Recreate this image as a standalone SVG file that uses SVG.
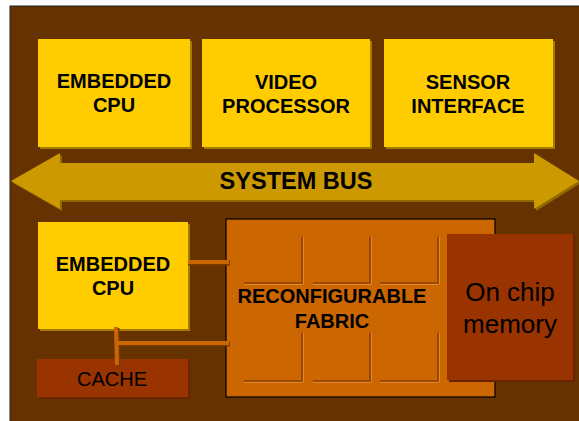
<svg xmlns="http://www.w3.org/2000/svg" width="579" height="421" viewBox="0 0 579 421">
<style>
.bold{font-family:"Liberation Sans",Arial,sans-serif;font-weight:bold;fill:#000;text-anchor:middle}
.reg{font-family:"Liberation Sans",Arial,sans-serif;fill:#000;text-anchor:middle}
.ybox{fill:#FFCC00}
.yshadow{fill:#A67C00}
.grid{fill:none;stroke:#8F4200;stroke-width:1.6}
.gridhl{fill:none;stroke:#E08A2E;stroke-width:1}
.conn{stroke:#CC6600;stroke-width:4;fill:none}
.connsh{stroke:#7A3A00;stroke-width:5;fill:none}
</style>
<rect x="0" y="0" width="579" height="421" fill="#FFFFFF"/>
<rect x="10" y="6" width="575" height="420" fill="#663300" stroke="#222" stroke-width="1"/>

<g id="cpu-top">
<rect class="yshadow" x="40" y="41" width="152" height="108"/>
<rect class="ybox" x="38" y="39" width="152" height="108"/>
<text class="bold" x="114" y="88" font-size="20">EMBEDDED</text>
<text class="bold" x="114" y="112" font-size="20">CPU</text>
</g>
<g id="video">
<rect class="yshadow" x="204" y="41" width="168" height="108"/>
<rect class="ybox" x="202" y="39" width="168" height="108"/>
<text class="bold" x="286" y="89" font-size="20">VIDEO</text>
<text class="bold" x="286" y="113" font-size="20">PROCESSOR</text>
</g>
<g id="sensor">
<rect class="yshadow" x="386" y="41" width="169" height="108"/>
<rect class="ybox" x="384" y="39" width="169" height="108"/>
<text class="bold" x="468" y="89" font-size="20">SENSOR</text>
<text class="bold" x="468" y="113" font-size="20">INTERFACE</text>
</g>

<g id="system-bus">
<polygon points="13,183 62,155 62,165 536,165 536,155 581,183 536,211 536,202 62,202 62,211" fill="#8F6A00"/>
<polygon points="11,181 60,153 60,163 534,163 534,153 579,181 534,209 534,200 60,200 60,209" fill="#CC9900"/>
<text class="bold" x="296" y="189" font-size="23.5">SYSTEM BUS</text>
</g>

<g id="cpu-bottom">
<rect class="yshadow" x="40" y="224" width="150" height="107"/>
<rect class="ybox" x="38" y="222" width="150" height="107"/>
<text class="bold" x="113" y="271" font-size="20">EMBEDDED</text>
<text class="bold" x="113" y="295" font-size="20">CPU</text>
</g>

<g id="cache">
<rect x="39" y="361" width="151" height="38" fill="#6B2400"/>
<rect x="37" y="359" width="151" height="38" fill="#993300"/>
<text class="reg" x="112" y="386" font-size="20">CACHE</text>
</g>

<g id="fabric">
<rect x="226" y="219" width="269" height="178" fill="#CC6600" stroke="#000" stroke-width="1.2"/>
<path class="gridhl" d="M244,284.5 H303 M313,284.5 H371 M380,284.5 H439 M303.5,237 V284 M371.5,237 V284 M439.5,237 V284 M244,382.5 H303 M313,382.5 H371 M380,382.5 H439 M303.5,333 V382 M371.5,333 V382 M439.5,333 V382"/>
<path class="grid" d="M244,283 H302 V237 M313,283 H370 V237 M380,283 H438 V237 M244,381 H302 V333 M313,381 H370 V333 M380,381 H438 V333"/>
<text class="bold" x="332" y="303" font-size="20">RECONFIGURABLE</text>
<text class="bold" x="332" y="328" font-size="20">FABRIC</text>
</g>

<g id="memory">
<rect x="449" y="236" width="126" height="146" fill="#6B2400"/>
<rect x="447" y="234" width="126" height="146" fill="#993300"/>
<text class="reg" x="510" y="301" font-size="26">On chip</text>
<text class="reg" x="510" y="333" font-size="26">memory</text>
</g>

<g id="connectors">
<path class="connsh" d="M188,263 H230 M116,344 H230 M117,328 L118,366"/>
<path class="conn" d="M188,262 H229 M115,343 H229 M116,327 L117,365"/>
</g>
</svg>
